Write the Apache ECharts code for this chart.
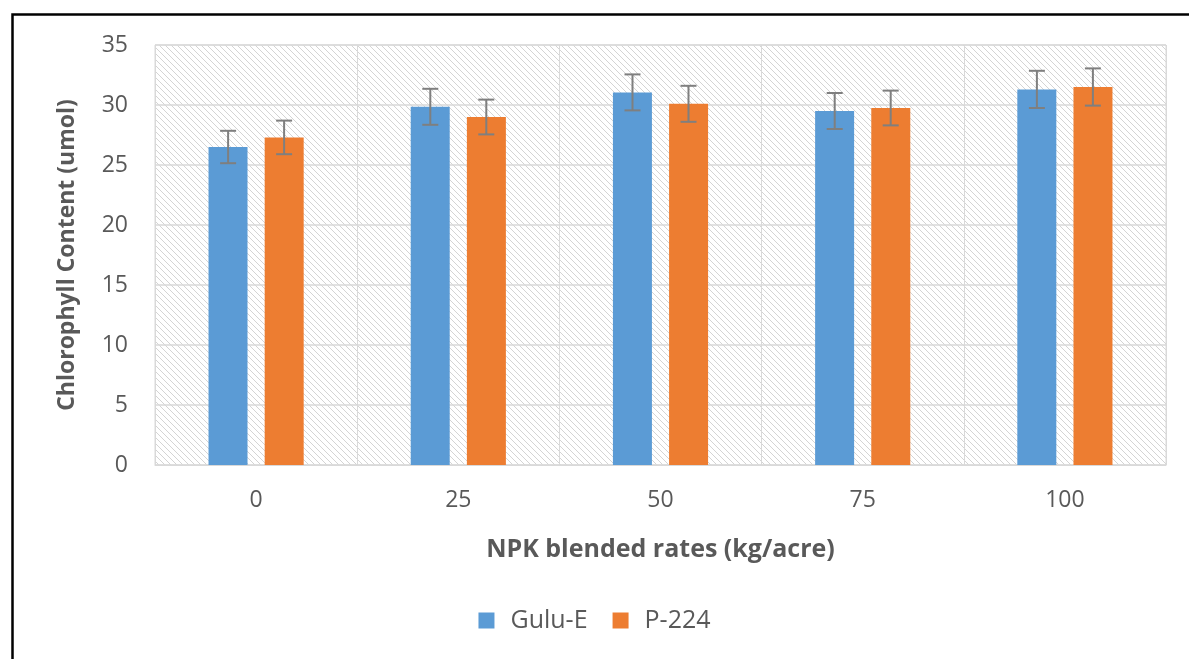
<!DOCTYPE html>
<html><head><meta charset="utf-8">
<script src="https://cdn.jsdelivr.net/npm/echarts@6/dist/echarts.min.js"></script>
<style>html,body{margin:0;padding:0;background:#fff}#c{width:1189px;height:659px}</style>
</head><body><div id="c"></div>
<script>
const categories = ['0', '25', '50', '75', '100'];
const seriesNames = ['Gulu-E', 'P-224'];
const guluE = [26.5, 29.85, 31.05, 29.5, 31.3];
const p224 = [27.3, 29.0, 30.1, 29.75, 31.5];
const guluErr = [1.35, 1.5, 1.5, 1.5, 1.55];
const p224Err = [1.4, 1.45, 1.5, 1.45, 1.55];
const yTicks = [0, 5, 10, 15, 20, 25, 30, 35];

const pc = document.createElement('canvas');
pc.width = 6; pc.height = 6;
const ctx = pc.getContext('2d');
ctx.fillStyle = '#ffffff'; ctx.fillRect(0,0,6,6);
ctx.strokeStyle = '#d4d4d4'; ctx.lineWidth = 1;
ctx.beginPath();
ctx.moveTo(-1,-1); ctx.lineTo(7,7);
ctx.moveTo(-4,2); ctx.lineTo(4,10);
ctx.moveTo(2,-4); ctx.lineTo(10,4);
ctx.stroke();

const font = '"Open Sans", sans-serif';
const chart = echarts.init(document.getElementById('c'), null, {renderer: 'canvas'});

function errSeries(vals, errs, side) {
  return {
    type: 'custom',
    name: seriesNames[side === -1 ? 0 : 1] + ' err',
    z: 10,
    silent: true,
    data: vals.map((v, i) => [i, v - errs[i], v + errs[i]]),
    renderItem: function (params, api) {
      const i = api.value(0);
      const lo = api.coord([i, api.value(1)]);
      const hi = api.coord([i, api.value(2)]);
      const bw = api.size([1, 0])[0];
      const x = lo[0] + side * bw * 28 / 202.2;
      const cap = 8;
      const st = {stroke: '#7f7f7f', lineWidth: 2};
      return {type: 'group', children: [
        {type: 'line', shape: {x1: x, y1: lo[1], x2: x, y2: hi[1]}, style: st},
        {type: 'line', shape: {x1: x - cap, y1: lo[1], x2: x + cap, y2: lo[1]}, style: st},
        {type: 'line', shape: {x1: x - cap, y1: hi[1], x2: x + cap, y2: hi[1]}, style: st}
      ]};
    }
  };
}

chart.setOption({
  animation: false,
  textStyle: {fontFamily: font},
  graphic: [{
    type: 'rect', left: 10, top: 12, z: 100,
    shape: {x: 0, y: 0, width: 1200, height: 700},
    style: {fill: 'none', stroke: '#000', lineWidth: 2.5}
  }],
  grid: {left: 155, right: 23, top: 45, bottom: 194, show: true,
    backgroundColor: {image: pc, repeat: 'repeat'}, borderColor: '#d9d9d9', borderWidth: 1},
  legend: {
    data: seriesNames, bottom: 21, left: 'center', itemWidth: 16, itemHeight: 16, itemGap: 25,
    icon: 'rect',
    textStyle: {fontSize: 25, color: '#595959', fontFamily: font, padding: [0, 0, 0, 11]}
  },
  xAxis: {
    type: 'category', data: categories,
    name: 'NPK blended rates (kg/acre)', nameLocation: 'middle', nameGap: 72,
    nameTextStyle: {fontSize: 25, fontWeight: 'bold', color: '#595959', fontFamily: font},
    axisLine: {show: true, lineStyle: {color: '#d9d9d9'}},
    axisTick: {show: false},
    axisLabel: {fontSize: 23, color: '#595959', margin: 24},
    splitLine: {show: true, interval: 0, lineStyle: {color: '#d9d9d9', width: 1}}
  },
  yAxis: {
    type: 'value', min: yTicks[0], max: yTicks[yTicks.length - 1], interval: 5,
    name: 'Chlorophyll Content (umol)', nameLocation: 'middle', nameGap: 76,
    nameTextStyle: {fontSize: 23, fontWeight: 'bold', color: '#595959', fontFamily: font},
    axisLine: {show: false}, axisTick: {show: false},
    axisLabel: {fontSize: 23, color: '#595959', margin: 27},
    splitLine: {lineStyle: {color: '#d9d9d9', width: 1.5}}
  },
  series: [
    {name: seriesNames[0], type: 'bar', data: guluE, barWidth: 39, barGap: '44%', itemStyle: {color: '#5B9BD5'}},
    {name: seriesNames[1], type: 'bar', data: p224, barWidth: 39, barGap: '44%', itemStyle: {color: '#ED7D31'}},
    errSeries(guluE, guluErr, -1),
    errSeries(p224, p224Err, 1)
  ]
});
</script></body></html>
